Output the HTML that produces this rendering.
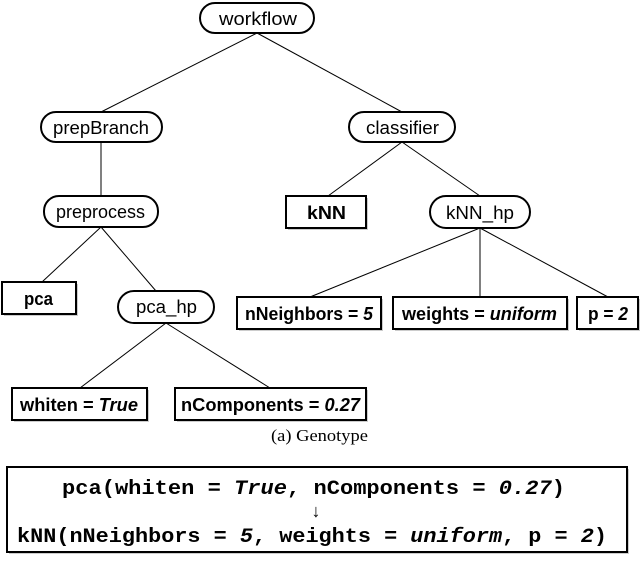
<!DOCTYPE html>
<html><head><meta charset="utf-8"><style>
body{margin:0;width:640px;height:561px;background:#fff;overflow:hidden}
svg{display:block}
text{font-family:"Liberation Sans",sans-serif;font-size:18px;fill:#000}
.b{font-weight:bold;font-size:18px}
.m{font-family:"Liberation Mono",monospace;font-weight:bold;font-size:20px}
</style></head><body>
<svg width="640" height="561" viewBox="0 0 640 561">
<g stroke="#000" stroke-width="1" fill="none">
<line x1="257" y1="33" x2="101" y2="112"/>
<line x1="257" y1="33" x2="402" y2="112"/>
<line x1="101" y1="142" x2="101" y2="196"/>
<line x1="101" y1="227" x2="42" y2="282"/>
<line x1="101" y1="227" x2="156" y2="291"/>
<line x1="402" y1="142" x2="328" y2="196"/>
<line x1="402" y1="142" x2="480" y2="196"/>
<line x1="480" y1="228" x2="310" y2="297"/>
<line x1="480" y1="228" x2="480" y2="297"/>
<line x1="480" y1="228" x2="608" y2="297"/>
<line x1="166" y1="323" x2="80" y2="388"/>
<line x1="166" y1="323" x2="270" y2="388"/>
</g>
<g fill="#ccc">
<rect x="288" y="198" width="80" height="32"/>
<rect x="4" y="284" width="74" height="32"/>
<rect x="239" y="299" width="144" height="32"/>
<rect x="395" y="299" width="174" height="32"/>
<rect x="579" y="299" width="61" height="32"/>
<rect x="14" y="390" width="135" height="32"/>
<rect x="177" y="390" width="191" height="32"/>
<rect x="9" y="469" width="620" height="85"/>
</g>
<g stroke="#000" stroke-width="2" fill="#fff">
<rect x="200" y="3" width="114" height="30" rx="15"/>
<rect x="41" y="112" width="121" height="30" rx="15"/>
<rect x="349" y="112" width="106" height="30" rx="15"/>
<rect x="44" y="196" width="114" height="31" rx="15"/>
<rect x="430" y="196" width="100" height="32" rx="16"/>
<rect x="118" y="291" width="96" height="32" rx="16"/>
<rect x="286" y="196" width="80" height="32"/>
<rect x="2" y="282" width="74" height="32"/>
<rect x="237" y="297" width="144" height="32"/>
<rect x="393" y="297" width="174" height="32"/>
<rect x="577" y="297" width="61" height="32"/>
<rect x="12" y="388" width="135" height="32"/>
<rect x="175" y="388" width="191" height="32"/>
<rect x="7" y="467" width="620" height="85"/>
</g>
<g lengthAdjust="spacingAndGlyphs">
<text x="219" y="25" textLength="78" lengthAdjust="spacingAndGlyphs">workflow</text>
<text x="53" y="134" textLength="96" lengthAdjust="spacingAndGlyphs">prepBranch</text>
<text x="366" y="134" textLength="73" lengthAdjust="spacingAndGlyphs">classifier</text>
<text x="56" y="218" textLength="89" lengthAdjust="spacingAndGlyphs">preprocess</text>
<text x="446" y="219" textLength="68" lengthAdjust="spacingAndGlyphs">kNN_hp</text>
<text x="136" y="313" textLength="61" lengthAdjust="spacingAndGlyphs">pca_hp</text>
<text class="b" x="307" y="219" textLength="39" lengthAdjust="spacingAndGlyphs">kNN</text>
<text class="b" x="24" y="305" textLength="29" lengthAdjust="spacingAndGlyphs">pca</text>
<text class="b" x="245" y="320" textLength="128" lengthAdjust="spacingAndGlyphs">nNeighbors = <tspan font-style="italic">5</tspan></text>
<text class="b" x="402" y="320" textLength="155" lengthAdjust="spacingAndGlyphs">weights = <tspan font-style="italic">uniform</tspan></text>
<text class="b" x="588" y="320" textLength="40" lengthAdjust="spacingAndGlyphs">p = <tspan font-style="italic">2</tspan></text>
<text class="b" x="20" y="411" textLength="118" lengthAdjust="spacingAndGlyphs">whiten = <tspan font-style="italic">True</tspan></text>
<text class="b" x="181" y="411" textLength="179" lengthAdjust="spacingAndGlyphs">nComponents = <tspan font-style="italic">0.27</tspan></text>
<text x="271" y="441" textLength="97" lengthAdjust="spacingAndGlyphs" style="font-family:'Liberation Serif',serif;font-size:17px">(a) Genotype</text>
<text class="m" x="62" y="494" textLength="503" lengthAdjust="spacingAndGlyphs">pca(whiten = <tspan font-style="italic">True</tspan>, nComponents = <tspan font-style="italic">0.27</tspan>)</text>
<text x="316" y="517" text-anchor="middle" style="font-size:18px">↓</text>
<text class="m" x="17" y="542" textLength="590" lengthAdjust="spacingAndGlyphs">kNN(nNeighbors = <tspan font-style="italic">5</tspan>, weights = <tspan font-style="italic">uniform</tspan>, p = <tspan font-style="italic">2</tspan>)</text>
</g>
</svg>
</body></html>
